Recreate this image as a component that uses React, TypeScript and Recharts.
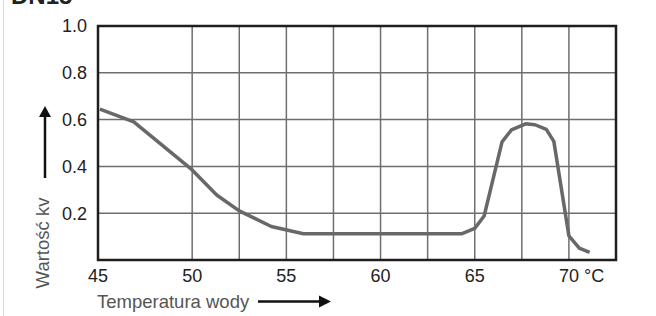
import { LineChart, Line, XAxis, YAxis, CartesianGrid, ReferenceArea } from 'recharts'

// temperatura wody [°C]
const temps = [45.1, 46.9, 50.0, 51.3, 52.5, 54.2, 55.9, 64.3, 65.0, 65.5, 66.45, 66.95, 67.7, 68.2, 68.8, 69.2, 70.0, 70.55, 71.1]
// wartość kv
const kvValues = [0.645, 0.59, 0.385, 0.278, 0.21, 0.143, 0.112, 0.112, 0.135, 0.188, 0.505, 0.556, 0.582, 0.578, 0.558, 0.507, 0.103, 0.051, 0.033]

const xTicks = [45, 50, 55, 60, 65, 70]
const xTickLabels = ['45', '50', '55', '60', '65', '70 °C']
const xGridValues = [50, 52.5, 55, 57.5, 60, 62.5, 65, 67.5, 70]
const yTicks = [0.2, 0.4, 0.6, 0.8, 1.0]
const yLeftLabels = ['0.2', '0.4', '0.6', '0.8', '1.0']
const yRightLabels = ['0', '0', '0', '0', '1']

const data = temps.map((t, i) => ({ t, kv: kvValues[i] }))

const FONT = '"Liberation Sans", Arial, sans-serif'
const INK = '#222'

const XTick = (props: any) => {
  const { x, y, payload } = props
  const i = xTicks.indexOf(payload.value)
  const label = xTickLabels[i] ?? String(payload.value)
  const last = label.includes('°')
  return (
    <text
      x={last ? x - 10 : x}
      y={y}
      dy="0.71em"
      textAnchor={last ? 'start' : 'middle'}
      fontSize={18}
      fontFamily={FONT}
      fill={INK}
    >
      {label}
    </text>
  )
}

export default function App() {
  return (
    <div style={{ position: 'absolute', left: 0, top: 0, width: 656, height: 316, background: '#fff' }}>
      <LineChart
        width={656}
        height={316}
        data={data}
        margin={{ top: 26, right: 10, bottom: 26, left: 0 }}
      >
        <line x1={3.5} y1={0} x2={3.5} y2={316} stroke="#dcdcdc" strokeWidth={1} />
        <text x={11} y={4} fontSize={24} fontWeight="bold" fontFamily={FONT} fill={INK}>
          DN15
        </text>

        <CartesianGrid
          yAxisId="left"
          stroke="#6e6e6e"
          strokeWidth={1.5}
          verticalValues={xGridValues}
          horizontalValues={yTicks}
        />
        <XAxis
          dataKey="t"
          type="number"
          domain={[45, 72.5]}
          ticks={xTicks}
          tick={<XTick />}
          tickLine={false}
          axisLine={false}
          tickSize={6}
          tickMargin={3}
          height={30}
          allowDataOverflow
        />
        <YAxis
          yAxisId="left"
          type="number"
          domain={[0, 1]}
          ticks={yTicks}
          tickFormatter={(v: number) => yLeftLabels[yTicks.indexOf(v)] ?? ''}
          tick={{ fontSize: 18, fill: INK, fontFamily: FONT }}
          tickLine={false}
          axisLine={false}
          tickMargin={5}
          width={98}
        />
        <YAxis
          yAxisId="right"
          orientation="right"
          type="number"
          domain={[0, 1]}
          ticks={yTicks}
          tickFormatter={(v: number) => yRightLabels[yTicks.indexOf(v)] ?? ''}
          tick={{ fontSize: 18, fill: INK, fontFamily: FONT }}
          tickLine={false}
          axisLine={false}
          tickMargin={4}
          width={30}
        />
        <Line
          yAxisId="left"
          type="linear"
          dataKey="kv"
          stroke="#686868"
          strokeWidth={3.5}
          dot={false}
          strokeLinejoin="round"
          isAnimationActive={false}
        />
        <ReferenceArea
          yAxisId="left"
          x1={45}
          x2={72.5}
          y1={0}
          y2={1}
          fill="none"
          fillOpacity={0}
          stroke="#1e1e1e"
          strokeWidth={2.5}
          strokeOpacity={1}
          ifOverflow="visible"
        />

        {/* opis osi Y ze strzałką */}
        <text
          transform="translate(42, 243) rotate(-90)"
          textAnchor="middle"
          dominantBaseline="central"
          fontSize={18.5}
          fontFamily={FONT}
          fill="#555"
        >
          Wartość kv
        </text>
        <line x1={45} y1={178} x2={45} y2={114} stroke="#111" strokeWidth={2.5} />
        <polygon points="45,106 39,117 51,117" fill="#111" />

        {/* opis osi X ze strzałką */}
        <text x={97} y={308} fontSize={18.5} fontFamily={FONT} fill="#555">
          Temperatura wody
        </text>
        <line x1={258} y1={301.5} x2={322} y2={301.5} stroke="#111" strokeWidth={2.5} />
        <polygon points="331,301.5 319,295.5 319,307.5" fill="#111" />
      </LineChart>
    </div>
  )
}
